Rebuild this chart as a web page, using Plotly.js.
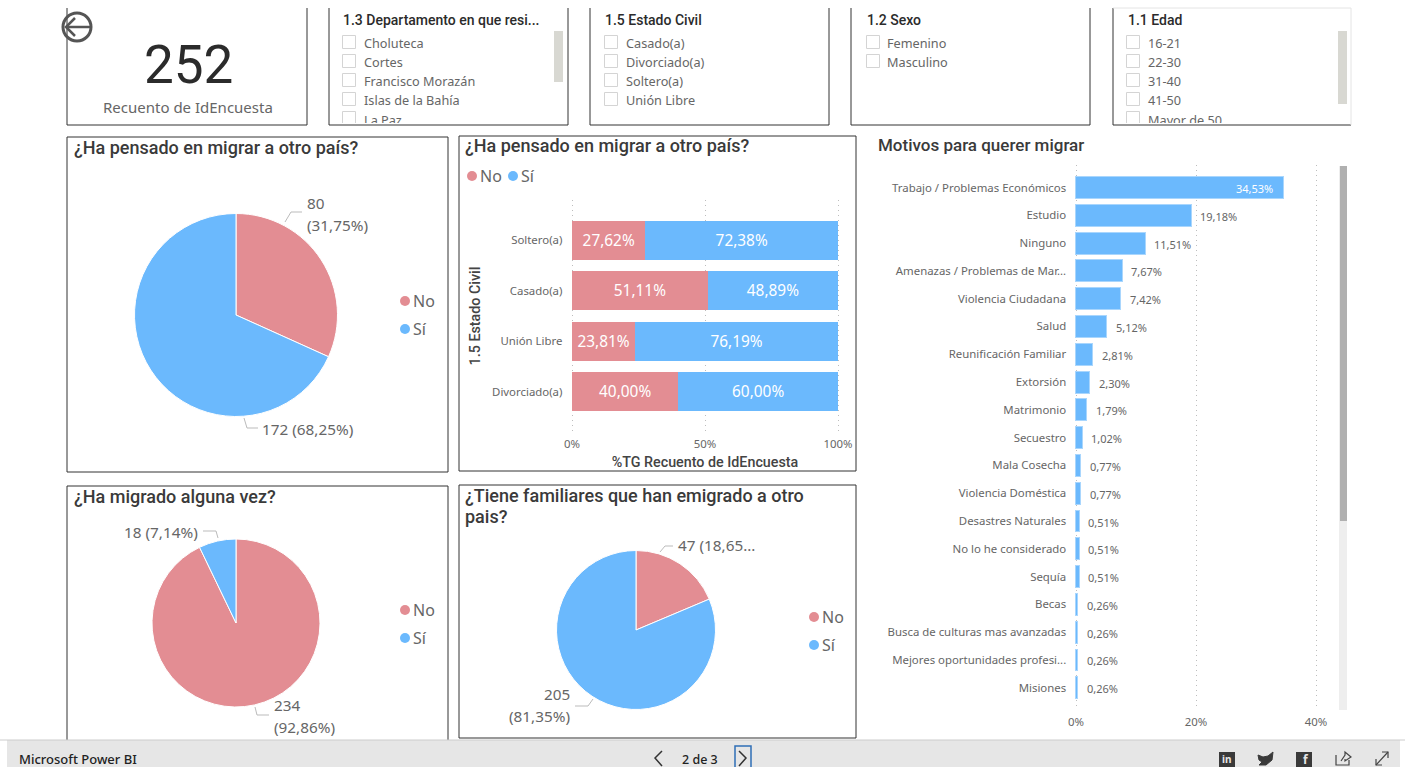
<!DOCTYPE html>
<html><head><meta charset="utf-8">
<script src="https://cdn.plot.ly/plotly-3.0.1.min.js"></script>
<style>html,body{margin:0;padding:0;background:#fff;overflow:hidden}#c{width:1405px;height:767px}</style>
</head><body><div id="c"></div>
<script>
// ---------- data ----------
const seriesNames = ['No', 'Sí'];
const pensadoCounts = [80, 172];
const pensadoPct = ['31,75', '68,25'];
const migradoCounts = [234, 18];
const migradoPct = ['92,86', '7,14'];
const familiaresCounts = [47, 205];
const familiaresPct = ['18,65...', '81,35'];
const civilCategories = ['Soltero(a)', 'Casado(a)', 'Unión Libre', 'Divorciado(a)'];
const civilNo = [27.62, 51.11, 23.81, 40.00];
const civilSi = [72.38, 48.89, 76.19, 60.00];
const civilTicks = [0, 50, 100];
const civilTickLabels = ['0%', '50%', '100%'];
const motivos = ['Trabajo / Problemas Económicos', 'Estudio', 'Ninguno', 'Amenazas / Problemas de Mar...', 'Violencia Ciudadana', 'Salud', 'Reunificación Familiar', 'Extorsión', 'Matrimonio', 'Secuestro', 'Mala Cosecha', 'Violencia Doméstica', 'Desastres Naturales', 'No lo he considerado', 'Sequía', 'Becas', 'Busca de culturas mas avanzadas', 'Mejores oportunidades profesi...', 'Misiones'];
const motivosPct = [34.53, 19.18, 11.51, 7.67, 7.42, 5.12, 2.81, 2.30, 1.79, 1.02, 0.77, 0.77, 0.51, 0.51, 0.51, 0.26, 0.26, 0.26, 0.26];
const motivosTicks = [0, 20, 40];
const motivosTickLabels = ['0%', '20%', '40%'];
const deptItems = ['Choluteca', 'Cortes', 'Francisco Morazán', 'Islas de la Bahía', 'La Paz'];
const civilItems = ['Casado(a)', 'Divorciado(a)', 'Soltero(a)', 'Unión Libre'];
const sexoItems = ['Femenino', 'Masculino'];
const edadItems = ['16-21', '22-30', '31-40', '41-50', 'Mayor de 50'];
const totalCount = 252;

// ---------- style ----------
const NO = '#E38D93', SI = '#6BB9FD', DARK = '#2B2B2B', TITLE = '#3A3A3A', GREY = '#666666', EDGE = '#333333';
const BODY = '"Noto Sans", sans-serif', HEAD = 'Roboto, sans-serif';
const PIE = 15.3;
const X = x => x / 1405, Y = y => 1 - y / 767;
const comma = v => v.toFixed(2).replace('.', ',') + '%';

const shapes = [], annotations = [];
function rect(x0, y0, x1, y1, line, fill, w) {
  shapes.push({type:'rect', xref:'paper', yref:'paper', x0:X(x0), x1:X(x1), y0:Y(y0), y1:Y(y1),
    line:{color:line || 'rgba(0,0,0,0)', width:w === undefined ? 1 : w}, fillcolor:fill || 'rgba(0,0,0,0)', layer:'below'});
}
function circle(cx, cy, r, fill, line, w) {
  shapes.push({type:'circle', xref:'paper', yref:'paper', x0:X(cx-r), x1:X(cx+r), y0:Y(cy-r), y1:Y(cy+r),
    fillcolor:fill || 'rgba(0,0,0,0)', line:{color:line || 'rgba(0,0,0,0)', width:w || 0}});
}
function poly(pts, line, w, fill) {
  const d = pts.map((p, i) => (i ? 'L' : 'M') + X(p[0]) + ' ' + Y(p[1])).join(' ') + (fill ? ' Z' : '');
  shapes.push({type:'path', xref:'paper', yref:'paper', path:d,
    line:{color:line || 'rgba(0,0,0,0)', width:w === undefined ? 1 : w}, fillcolor:fill || 'rgba(0,0,0,0)'});
}
function label(x, y, text, size, color, anchor, family, weight) {
  annotations.push({xref:'paper', yref:'paper', x:X(x), y:Y(y), text, showarrow:false,
    xanchor:anchor || 'left', yanchor:'middle', borderpad:0,
    font:{size, color:color || GREY, family:family || BODY, weight:weight || 400}});
}
function legendEntry(cx, cy, name, color) { circle(cx, cy, 5, color); label(cx + 7, cy, name, 16, GREY); }
function pieTrace(values, cx, cy, r) {
  return {type:'pie', labels:seriesNames, values, sort:false, direction:'clockwise', rotation:0,
    textinfo:'none', showlegend:false, marker:{colors:[NO, SI], line:{color:'#fff', width:1}},
    domain:{x:[X(cx-r), X(cx+r)], y:[Y(cy+r), Y(cy-r)]}};
}

// ---------- panels ----------
[[67,8,307,125],[329,8,568,125],[590,8,829,125],[851,8,1090,125]].forEach(p => {
  poly([[p[0],p[1]],[p[0],p[3]],[p[2],p[3]],[p[2],p[1]]], EDGE, 1);
});
poly([[1113,8],[1113,125],[1351,125]], EDGE, 1);
poly([[1113,8],[1351,8],[1351,125]], '#E4E4E4', 1);
rect(67,137,448,472,EDGE);
rect(459,136,856,471,EDGE);
rect(67,486,448,745,EDGE);
rect(459,485,856,738,EDGE);

// ---------- KPI ----------
label(188, 65, String(totalCount), 53, DARK, 'center', HEAD);
label(188, 107, 'Recuento de IdEncuesta', 15, GREY, 'center');
circle(77, 27, 14, 'rgba(0,0,0,0)', '#555', 3);
poly([[90,27],[66,27]], '#555', 2.5);
poly([[75,18],[66,27],[75,36]], '#555', 2.5);

// ---------- slicers ----------
label(342, 19.5, '1.3 Departamento en que resi...', 14, DARK, 'left', HEAD, 500);
label(603.5, 19.5, '1.5 Estado Civil', 14, DARK, 'left', HEAD, 500);
label(865.5, 19.5, '1.2 Sexo', 14, DARK, 'left', HEAD, 500);
label(1126.5, 19.5, '1.1 Edad', 14, DARK, 'left', HEAD, 500);
rect(554,31,563,82,null,'#D8D8D2',0);
rect(1338,31,1347,104,null,'#D8D8D2',0);
const rowY = [42, 61, 80, 99, 118];
const slicerTraces = [];
[[deptItems,349,364],[civilItems,611,626],[sexoItems,873,887],[edadItems,1133,1148]].forEach(s => {
  slicerTraces.push({type:'scatter', mode:'markers', xaxis:'x3', yaxis:'y3', showlegend:false, hoverinfo:'skip',
    x:s[0].map(() => s[1]), y:s[0].map((_, i) => rowY[i]),
    marker:{symbol:'square-open', size:13, color:'#D4D4D4', line:{width:1, color:'#D4D4D4'}}});
  slicerTraces.push({type:'scatter', mode:'text', xaxis:'x3', yaxis:'y3', showlegend:false, hoverinfo:'skip',
    x:s[0].map(() => s[2]), y:s[0].map((_, i) => rowY[i] + (i === 4 ? 4 : 3)), text:s[0],
    textposition:'middle right', textfont:{size:12.7, color:GREY, family:BODY}});
});

// ---------- chart titles ----------
label(72.5, 147, '¿Ha pensado en migrar a otro país?', 18, TITLE, 'left', HEAD, 500);
label(463.5, 146, '¿Ha pensado en migrar a otro país?', 18, TITLE, 'left', HEAD, 500);
label(72.5, 496, '¿Ha migrado alguna vez?', 18, TITLE, 'left', HEAD, 500);
label(463.5, 495, '¿Tiene familiares que han emigrado a otro', 18, TITLE, 'left', HEAD, 500);
label(463.5, 516, 'pais?', 18, TITLE, 'left', HEAD, 500);
label(877, 145, 'Motivos para querer migrar', 17, TITLE, 'left', HEAD, 500);

// ---------- pie legends and leaders ----------
legendEntry(405, 301, seriesNames[0], NO); legendEntry(405, 329, seriesNames[1], SI);
legendEntry(405, 610, seriesNames[0], NO); legendEntry(405, 638, seriesNames[1], SI);
legendEntry(814, 617, seriesNames[0], NO); legendEntry(814, 645, seriesNames[1], SI);
legendEntry(472, 176, seriesNames[0], NO); legendEntry(513, 176, seriesNames[1], SI);

label(306, 203, String(pensadoCounts[0]), PIE);
label(306, 225, '(' + pensadoPct[0] + '%)', PIE);
poly([[285,222],[291,212],[302,212]], '#BBBBBB', 1);
label(261, 429, pensadoCounts[1] + ' (' + pensadoPct[1] + '%)', PIE);
poly([[244,418],[247,428],[258,428]], '#BBBBBB', 1);

label(199, 532, migradoCounts[1] + ' (' + migradoPct[1] + '%)', PIE, GREY, 'right');
poly([[203,531],[216,531],[218,538]], '#BBBBBB', 1);
label(273, 705, String(migradoCounts[0]), PIE);
label(273, 727, '(' + migradoPct[0] + '%)', PIE);
poly([[255,707],[257,715],[269,715]], '#BBBBBB', 1);

label(677, 545, familiaresCounts[0] + ' (' + familiaresPct[0], PIE);
poly([[660,552],[665,546],[673,546]], '#BBBBBB', 1);
label(571, 694, String(familiaresCounts[1]), PIE, GREY, 'right');
label(571, 716, '(' + familiaresPct[1] + '%)', PIE, GREY, 'right');
poly([[575,706],[588,706],[593,699]], '#BBBBBB', 1);

// ---------- motivos value labels ----------
motivos.forEach((m, i) => {
  const inside = i === 0;
  annotations.push({xref:'x2', yref:'y2', x:motivosPct[i], y:m, text:comma(motivosPct[i]), showarrow:false,
    xanchor:inside ? 'right' : 'left', xshift:inside ? -9 : 8, yshift:-1, borderpad:0,
    font:{size:11, color:inside ? '#FFFFFF' : GREY, family:BODY}});
});

// ---------- motivos scrollbar ----------
rect(1339,166,1347,710,null,'#EEEEEE',0);
rect(1340,166,1347,521,null,'#B0B0B0',0);

// ---------- footer ----------
rect(7,740,1400,767,null,'#E6E6E6',0);
poly([[0,740],[1405,740]], '#CCCCCC', 1);
label(18, 759, 'Microsoft Power BI', 13, '#222', 'left', BODY, 500);
label(700, 759, '2 de 3', 12.5, '#222', 'center', BODY, 500);
poly([[662,751],[655,758],[662,766]], '#333', 1.5);
rect(735,746,751,768,'#2F6FB7',null,1.5);
poly([[739,751],[746,758],[739,766]], '#333', 1.5);
rect(1219,752,1235,767,null,'#3A3A3A',0);
label(1227, 759, 'in', 10, '#E6E6E6', 'center', BODY, 700);
poly([[1258,755],[1263,757],[1268,756],[1273,752],[1272,760],[1266,765],[1259,765],[1262,762],[1259,760]], '#3A3A3A', 1, '#3A3A3A');
rect(1296,752,1312,767,null,'#3A3A3A',0);
label(1306, 759, 'f', 12, '#E6E6E6', 'center', BODY, 700);
poly([[1336,755],[1336,765],[1349,765],[1349,760]], '#444', 1.2);
poly([[1341,761],[1345,755],[1345,752],[1351,757],[1345,761],[1345,759]], '#444', 1.2);
poly([[1376,765],[1388,752]], '#444', 1.2);
poly([[1382,752],[1388,752],[1388,758]], '#444', 1.2);
poly([[1376,759],[1376,765],[1382,765]], '#444', 1.2);

// ---------- traces ----------
const traces = [
  pieTrace(pensadoCounts, 236, 315, 101.5),
  pieTrace(migradoCounts, 236, 623, 84),
  pieTrace(familiaresCounts, 636, 630, 79.5),
  {type:'bar', orientation:'h', name:seriesNames[0], y:civilCategories, x:civilNo, width:0.77, showlegend:false,
    marker:{color:NO}, text:civilNo.map(comma), textposition:'inside', insidetextanchor:'middle', textangle:0,
    textfont:{size:15.4, color:'#FFFFFF', family:BODY}, xaxis:'x', yaxis:'y'},
  {type:'bar', orientation:'h', name:seriesNames[1], y:civilCategories, x:civilSi, width:0.77, showlegend:false,
    marker:{color:SI}, text:civilSi.map(comma), textposition:'inside', insidetextanchor:'middle', textangle:0,
    textfont:{size:15.4, color:'#FFFFFF', family:BODY}, xaxis:'x', yaxis:'y'},
  {type:'bar', orientation:'h', y:motivos, x:motivosPct, width:0.79, showlegend:false,
    marker:{color:SI, line:{color:'#A9D6FD', width:1}}, xaxis:'x2', yaxis:'y2'}
].concat(slicerTraces);

const tickFont = {size:11.4, color:GREY, family:BODY};
const dotted = {showgrid:true, griddash:'1px,4px', gridcolor:'#BDBDBD', gridwidth:1, zeroline:false, showline:false, ticks:'', fixedrange:true};
const layout = {
  width:1405, height:767, margin:{l:0, r:0, t:0, b:0}, paper_bgcolor:'#fff', plot_bgcolor:'rgba(0,0,0,0)',
  barmode:'stack', showlegend:false, shapes, annotations, hovermode:'closest',
  xaxis:Object.assign({}, dotted, {domain:[X(570.4), X(839.6)], range:[-0.6,100.6], tickmode:'array', tickvals:civilTicks, ticktext:civilTickLabels,
    ticklabelstandoff:4, tickfont:tickFont, anchor:'y',
    title:{text:'%TG Recuento de IdEncuesta', standoff:6, font:{size:14.3, color:'#444', family:HEAD, weight:500}}}),
  yaxis:{domain:[Y(432), Y(200)], type:'category', categoryorder:'array', categoryarray:civilCategories.slice().reverse(),
    range:[-0.79,3.79], showgrid:false, zeroline:false, ticks:'', ticklabelstandoff:7, tickfont:tickFont, anchor:'x', fixedrange:true,
    title:{text:'1.5 Estado Civil', standoff:8, font:{size:14.3, color:'#444', family:HEAD, weight:500}}},
  xaxis2:Object.assign({}, dotted, {domain:[X(1074.2), X(1334)], range:[-0.3,43], tickmode:'array', tickvals:motivosTicks, ticktext:motivosTickLabels,
    ticklabelstandoff:4, tickfont:tickFont, anchor:'y2'}),
  yaxis2:{domain:[Y(710), Y(165)], type:'category', categoryorder:'array', categoryarray:motivos.slice().reverse(),
    range:[-0.8,18.81], showgrid:false, zeroline:false, ticks:'', ticklabelstandoff:7, tickfont:tickFont, anchor:'x2', fixedrange:true},
  xaxis3:{domain:[0,1], range:[0,1405], visible:false, fixedrange:true, anchor:'y3'},
  yaxis3:{domain:[Y(123), Y(8)], range:[123,8], visible:false, fixedrange:true, anchor:'x3'}
};
Plotly.newPlot('c', traces, layout, {displayModeBar:false, responsive:false});
</script></body></html>
